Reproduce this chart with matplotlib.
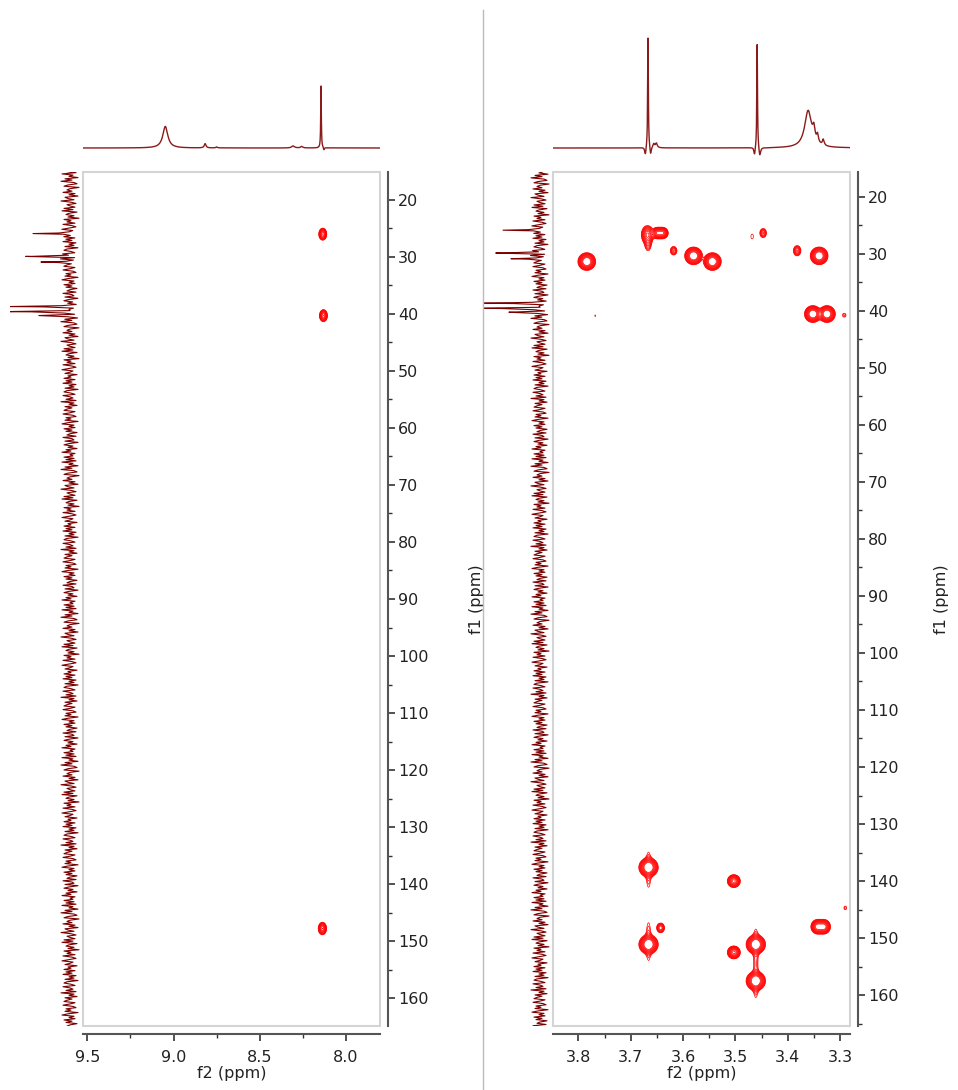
import numpy as np
import matplotlib
matplotlib.use("Agg")
import matplotlib.pyplot as plt
from matplotlib.patches import Rectangle
from matplotlib.lines import Line2D
from matplotlib.ticker import MultipleLocator

# 1H traces above the panels: position (ppm), height, fwhm (ppm)
top_left_ppm = [9.048, 8.817, 8.75, 8.307, 8.257, 8.145, 8.128]
top_left_h = [21.6, 4.3, 1.0, 2.0, 1.5, 62.0, -2.5]
top_left_w = [0.035, 0.012, 0.010, 0.020, 0.015, 0.004, 0.006]

top_right_ppm = [3.667, 3.672, 3.662, 3.656, 3.651, 3.4584, 3.4634, 3.4534, 3.361, 3.350, 3.343, 3.332]
top_right_h = [111, -8, -8, 4, 4.5, 105, -8, -9, 37, 12, 8, 6]
top_right_w = [0.0015, 0.003, 0.003, 0.004, 0.004, 0.0015, 0.003, 0.004, 0.016, 0.005, 0.004, 0.004]

# 13C projection on the f1 side
proj_ppm = [25.9, 29.9, 30.9, 38.7, 39.6, 40.3]
proj_h = [44, 41, 36, 62, 62, 32]
proj_w = [0.08, 0.08, 0.08, 0.08, 0.08, 0.08]
proj_noise = [4, -6, 8, -3, 1, -8, 5, -2, 9, -4, -7, 2, 6, -9, 0, 3, -2, 7, -5, 1,
              -8, 5, 2, -4, 9, -1, -6, 3, 0, -5, 6, -3, 8, -7, 1, 4, -4, 2, -9, 6,
              -1, 3, -5, 7, -2, -6, 1, 8, -3, 0, 5, -7, 2, -1, 6, -5, 4, -2, 7, -6,
              1, -4, 5, -8, 3, 6, -1, -5, 7, 0, -3, 4, -6, 9, -4, 1, -7, 5, -2, 3,
              6, -5, 0, 7, -3, -6, 4, -1, 5, -8, 2, 8, -4, 1, -5, 6, -2, 4, -7, 0,
              3, -6, 7, -2, -4, 5, -8, 1, 6, -3, 2, -7, 4, -1, 8, -5, 0, -3, 6, -4]

# cross peaks: f2, f1, amplitude, sigma f2, sigma f1 (ppm)
left_f2 = [8.135, 8.131, 8.137]
left_f1 = [26.0, 40.3, 147.8]
left_amp = [9.4, 9.4, 9.4]
left_s2 = [0.011, 0.011, 0.0115]
left_s1 = [0.5, 0.5, 0.52]

right_f2 = [3.784, 3.668, 3.667, 3.649, 3.639, 3.618, 3.580, 3.544, 3.468, 3.447,
            3.382, 3.340, 3.352, 3.325, 3.292, 3.768,
            3.666, 3.666, 3.666, 3.666, 3.643, 3.503, 3.503, 3.461, 3.461, 3.461,
            3.461, 3.343, 3.331, 3.290]
right_f1 = [31.4, 26.7, 28.3, 26.4, 26.4, 29.5, 30.4, 31.4, 27.0, 26.4,
            29.5, 30.4, 40.6, 40.6, 40.8, 40.9,
            137.6, 138.0, 151.1, 150.6, 148.2, 140.0, 152.5, 151.1, 151.5, 157.5,
            157.8, 148.0, 148.0, 144.7]
right_amp = [21, 10, 3, 12, 12, 4, 21, 21, 1.15, 4,
             5, 21, 21, 21, 1.6, 1.1,
             22, 2, 22, 2, 6, 13, 13, 22, 2, 22,
             2, 15, 15, 1.5]
right_s2 = [0.0069, 0.0055, 0.004, 0.0048, 0.0048, 0.0038, 0.0069, 0.0069, 0.0045, 0.0038,
            0.0040, 0.0069, 0.0065, 0.0065, 0.0035, 0.0015,
            0.0075, 0.004, 0.0075, 0.004, 0.004, 0.0055, 0.0055, 0.0075, 0.004, 0.0075,
            0.004, 0.0055, 0.0055, 0.003]
right_s1 = [0.63, 0.75, 0.8, 0.45, 0.45, 0.45, 0.63, 0.63, 0.8, 0.48,
            0.5, 0.63, 0.6, 0.6, 0.35, 0.35,
            0.68, 2.6, 0.68, 2.8, 0.45, 0.5, 0.5, 0.68, 2.6, 0.68,
            2.2, 0.55, 0.55, 0.35]

LEVELS = 1.25 ** np.arange(12)
W, H = 958, 1090


def box(x0, y0, x1, y1):
    return [x0 / W, 1 - y1 / H, (x1 - x0) / W, (y1 - y0) / H]


def lorentz(x, pos, h, w):
    y = np.zeros_like(x)
    for p, a, fw in zip(pos, h, w):
        y += a / (1 + ((x - p) / (fw / 2)) ** 2)
    return y


def cross_peaks(x, y, f2, f1, amp, s2, s1):
    z = np.zeros((len(y), len(x)))
    for a, b, c, d, e in zip(f2, f1, amp, s2, s1):
        z += c * np.outer(np.exp(-0.5 * ((y - b) / e) ** 2), np.exp(-0.5 * ((x - a) / d) ** 2))
    return z


def setup_main(ax, xlim, ylim, xmaj, xmin):
    ax.set_xlim(*xlim)
    ax.set_ylim(*ylim)
    ax.spines['left'].set_visible(False)
    ax.spines['top'].set_visible(False)
    for s in ['bottom', 'right']:
        ax.spines[s].set_position(('outward', 6))
        ax.spines[s].set_color('#555555')
        ax.spines[s].set_linewidth(1.5)
    ax.add_patch(Rectangle((0, 0), 1, 1, transform=ax.transAxes, fill=False,
                           ec='#d4d4d4', lw=1.5, clip_on=False))
    ax.yaxis.tick_right()
    ax.yaxis.set_label_position('right')
    ax.xaxis.set_major_locator(MultipleLocator(xmaj))
    ax.xaxis.set_minor_locator(MultipleLocator(xmin))
    ax.yaxis.set_major_locator(MultipleLocator(10))
    ax.yaxis.set_minor_locator(MultipleLocator(5))
    ax.tick_params(which='major', length=5, width=1.2, color='#333333', labelsize=11.5,
                   labelcolor='#222222')
    ax.tick_params(which='minor', length=3, width=1.0, color='#333333')
    ax.tick_params(axis='x', which='major', pad=6)
    ax.tick_params(axis='y', which='major', pad=2)
    ax.set_xlabel('f2 (ppm)', fontsize=11.5, color='#222222')
    ax.set_ylabel('f1 (ppm)', fontsize=11.5, color='#222222')


fig = plt.figure(figsize=(W / 100, H / 100), dpi=100)

panels = [
    dict(main=(82.7, 172, 380, 1026), proj=(10, 172, 83, 1026), pxlim=(60, -13),
         xlim=(9.527, 7.803), ylim=(164.9, 15.1), xmaj=0.5, xmin=0.25,
         top=(top_left_ppm, top_left_h, top_left_w),
         peaks=(left_f2, left_f1, left_amp, left_s2, left_s1),
         grid=(8.05, 8.22), lab=1.30),
    dict(main=(553.3, 172, 850, 1026), proj=(484, 172, 553, 1026), pxlim=(56, -13),
         xlim=(3.848, 3.281), ylim=(165.4, 15.7), xmaj=0.1, xmin=0.05,
         top=(top_right_ppm, top_right_h, top_right_w),
         peaks=(right_f2, right_f1, right_amp, right_s2, right_s1),
         grid=(3.281, 3.848), lab=1.283),
]

for p in panels:
    x0, y0, x1, y1 = p['main']
    ax = fig.add_axes(box(*p['main']))
    setup_main(ax, p['xlim'], p['ylim'], p['xmaj'], p['xmin'])
    ax.yaxis.set_label_coords(p['lab'], 0.5)
    ax.xaxis.set_label_coords(0.5, -0.047)

    gx = np.linspace(p['grid'][0], p['grid'][1], 1200)
    gy = np.linspace(14, 167, 1600)
    z = cross_peaks(gx, gy, *p['peaks'])
    ax.contour(gx, gy, z, levels=LEVELS, colors='#ff0000', linewidths=0.5)

    # 1H trace on top
    axt = fig.add_axes(box(x0, 20, x1, 165))
    axt.axis('off')
    tx = np.linspace(p['xlim'][1], p['xlim'][0], 6000)
    axt.plot(tx, lorentz(tx, *p['top']), color='#8b1a1a', lw=1.0)
    axt.set_xlim(*p['xlim'])
    axt.set_ylim(-17, 128)

    # 13C projection on the left, sampled exactly at the peak tops
    axp = fig.add_axes(box(*p['proj']))
    axp.axis('off')
    py = np.sort(np.concatenate([np.linspace(15, 166, 700), proj_ppm]))
    trace = lorentz(py, proj_ppm, proj_h, proj_w) + np.resize(proj_noise, len(py))
    axp.plot(trace, py, color='#7a0000', lw=0.8)
    axp.set_xlim(*p['pxlim'])
    axp.set_ylim(*p['ylim'])

fig.add_artist(Line2D([483 / W, 483 / W], [1 - 10 / H, 0], color='#bbbbbb', lw=1.0))

fig.savefig('out.png', dpi=100)
